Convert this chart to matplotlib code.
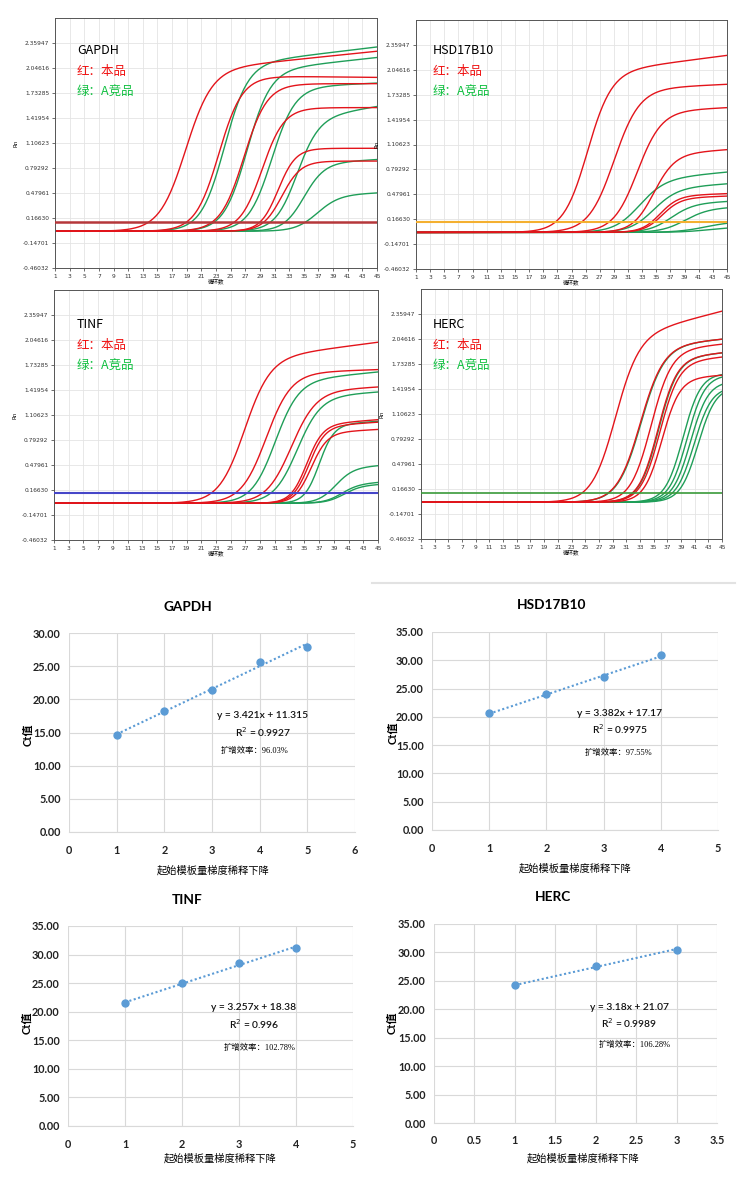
import numpy as np
import matplotlib
matplotlib.use('Agg')
import matplotlib.pyplot as plt
from matplotlib.lines import Line2D

plt.rcParams['font.family'] = ['Lato', 'Noto Sans CJK SC', 'DejaVu Sans']
plt.rcParams['axes.unicode_minus'] = False

W, H = 741, 1198

# ---------- amplification curves ----------
# each curve: midpoint cycle, plateau Rn, slope, drift per cycle after midpoint
cycles = np.linspace(1, 45, 221)
rn_ticks = [-0.46032, -0.14701, 0.16630, 0.47961, 0.79292, 1.10623,
            1.41954, 1.73285, 2.04616, 2.35947]
rn_labels = ['-0.46032', '-0.14701', '0.16630', '0.47961', '0.79292', '1.10623',
             '1.41954', '1.73285', '2.04616', '2.35947']
cycle_ticks = list(range(1, 46, 2))

gapdh_red_mid = [18.8, 23.4, 26.8, 29.3, 31.5, 32.0]
gapdh_red_plat = [2.01, 1.95, 1.85, 1.55, 1.04, 0.88]
gapdh_red_slope = [1.8, 1.6, 1.6, 1.5, 1.2, 1.3]
gapdh_red_drift = [0.0094, -0.001, 0.0, 0.0, 0.0, 0.0]
gapdh_green_mid = [24.1, 27.2, 30.6, 34.0, 35.0, 36.8]
gapdh_green_plat = [2.08, 2.0, 1.8, 1.4, 0.85, 0.45]
gapdh_green_slope = [1.6, 1.6, 1.6, 1.5, 1.4, 1.5]
gapdh_green_drift = [0.011, 0.01, 0.004, 0.015, 0.005, 0.004]
gapdh_threshold = 0.116

hsd_red_mid = [25.2, 29.0, 32.3, 34.6, 35.5, 35.8]
hsd_red_plat = [2.0, 1.8, 1.52, 0.98, 0.46, 0.43]
hsd_red_slope = [1.7, 1.8, 1.7, 1.5, 1.3, 1.3]
hsd_red_drift = [0.0115, 0.004, 0.004, 0.006, 0.003, 0.003]
hsd_green_mid = [32.5, 34.5, 37.0, 39.0, 42.0, 42.5]
hsd_green_plat = [0.66, 0.55, 0.36, 0.30, 0.14, 0.07]
hsd_green_slope = [1.8, 1.7, 1.6, 1.7, 2.0, 2.0]
hsd_green_drift = [0.008, 0.006, 0.004, 0.003, 0.0, 0.0]
hsd_threshold = 0.129

tinf_red_mid = [26.8, 29.8, 33.2, 35.3, 35.6, 35.9]
tinf_red_plat = [1.8, 1.63, 1.40, 0.98, 0.96, 0.88]
tinf_red_slope = [1.75, 1.7, 1.7, 1.1, 1.1, 1.1]
tinf_red_drift = [0.012, 0.003, 0.005, 0.007, 0.006, 0.005]
tinf_green_mid = [31.0, 34.0, 37.0, 39.2, 40.0, 40.3]
tinf_green_plat = [1.52, 1.33, 0.98, 0.44, 0.24, 0.22]
tinf_green_slope = [1.6, 1.6, 1.0, 1.2, 1.2, 1.2]
tinf_green_drift = [0.009, 0.006, 0.006, 0.006, 0.005, 0.004]
tinf_threshold = 0.124

herc_red_mid = [29.3, 33.0, 34.6, 35.6, 35.9, 36.2]
herc_red_plat = [2.05, 1.95, 1.9, 1.8, 1.75, 1.55]
herc_red_slope = [1.73, 1.7, 1.5, 1.4, 1.4, 1.3]
herc_red_drift = [0.022, 0.008, 0.008, 0.008, 0.008, 0.005]
herc_green_mid = [33.1, 35.7, 39.3, 39.9, 40.4, 40.9, 41.5]
herc_green_plat = [1.95, 1.8, 1.62, 1.6, 1.52, 1.45, 1.45]
herc_green_slope = [1.7, 1.4, 1.3, 1.3, 1.3, 1.3, 1.3]
herc_green_drift = [0.008, 0.008, 0.0, 0.0, 0.0, 0.0, 0.0]
herc_threshold = 0.12

# ---------- standard curves ----------
gapdh_dil = [1, 2, 3, 4, 5]
gapdh_ct = [14.6, 18.2, 21.4, 25.7, 27.9]
hsd_dil = [1, 2, 3, 4]
hsd_ct = [20.6, 24.1, 27.1, 30.9]
tinf_dil = [1, 2, 3, 4]
tinf_ct = [21.5, 25.0, 28.5, 31.2]
herc_dil = [1, 2, 3]
herc_ct = [24.2, 27.6, 30.5]

fits = {'GAPDH': (3.421, 11.315, '0.9927', '96.03%'),
        'HSD17B10': (3.382, 17.17, '0.9975', '97.55%'),
        'TINF': (3.257, 18.38, '0.996', '102.78%'),
        'HERC': (3.18, 21.07, '0.9989', '106.28%')}

RED = '#e3141b'
GREEN = '#1f9e58'
BLUE = '#5b9bd5'


def px_axes(fig, l, t, r, b):
    return fig.add_axes([l / W, 1 - b / H, (r - l) / W, (b - t) / H])


def curve(x, m, p, s, d):
    return (p + d * (x - m)) / (1 + np.exp(-(x - m) / s))


fig = plt.figure(figsize=(W / 100, H / 100), dpi=100)

amp_panels = [
    ('GAPDH', (55, 18, 377, 268), (77, 50), gapdh_red_mid, gapdh_red_plat, gapdh_red_slope, gapdh_red_drift,
     gapdh_green_mid, gapdh_green_plat, gapdh_green_slope, gapdh_green_drift, gapdh_threshold, '#b5373a', 1.8),
    ('HSD17B10', (416, 20, 727, 269), (433, 50), hsd_red_mid, hsd_red_plat, hsd_red_slope, hsd_red_drift,
     hsd_green_mid, hsd_green_plat, hsd_green_slope, hsd_green_drift, hsd_threshold, '#f4b030', 1.5),
    ('TINF', (54, 290, 378, 540), (77, 324), tinf_red_mid, tinf_red_plat, tinf_red_slope, tinf_red_drift,
     tinf_green_mid, tinf_green_plat, tinf_green_slope, tinf_green_drift, tinf_threshold, '#4646c8', 1.5),
    ('HERC', (421, 289, 722, 539), (433, 324), herc_red_mid, herc_red_plat, herc_red_slope, herc_red_drift,
     herc_green_mid, herc_green_plat, herc_green_slope, herc_green_drift, herc_threshold, '#3a9a3a', 1.2),
]

for (name, box, lab, rm, rp, rs, rd, gm, gp, gs, gd, thr, thr_col, thr_lw) in amp_panels:
    ax = px_axes(fig, *box)
    for m, p, s, d in zip(gm, gp, gs, gd):
        ax.plot(cycles, curve(cycles, m, p, s, d), color=GREEN, lw=1.0)
    for m, p, s, d in zip(rm, rp, rs, rd):
        ax.plot(cycles, curve(cycles, m, p, s, d), color=RED, lw=1.0)
    ax.axhline(thr, color=thr_col, lw=thr_lw, zorder=5)
    ax.set_xlim(1, 45)
    ax.set_ylim(-0.46032, 2.67278)
    ax.set_xticks(cycle_ticks)
    ax.set_xticklabels([str(c) for c in cycle_ticks], fontsize=4.2, family='DejaVu Sans')
    ax.set_yticks(rn_ticks)
    ax.set_yticklabels(rn_labels, fontsize=4.2, family='DejaVu Sans')
    ax.tick_params(length=2, width=0.5, pad=2, colors='#333333')
    ax.grid(True, color='#e4e4e4', lw=0.6)
    ax.set_axisbelow(True)
    for sp in ax.spines.values():
        sp.set_color('#555555')
        sp.set_linewidth(0.7)
    ax.set_xlabel('循环数', fontsize=4, labelpad=0, family=['Noto Sans CJK SC'])
    ax.set_ylabel('Rn', fontsize=4, labelpad=3, family='DejaVu Sans')
    lx, ly = lab
    fig.text(lx / W, 1 - ly / H, name, fontsize=9, color='black',
             family=['Noto Sans CJK SC'], va='center')
    fig.text(lx / W, 1 - (ly + 21) / H, '红：本品', fontsize=9, color='#f01010',
             family=['Noto Sans CJK SC'], va='center')
    fig.text(lx / W, 1 - (ly + 42) / H, '绿：A竞品', fontsize=9, color='#10c040',
             family=['Noto Sans CJK SC'], va='center')

# separator line above second standard curve
fig.add_artist(Line2D([372 / W, 735 / W], [1 - 583 / H, 1 - 583 / H], color='#e2e2e2', lw=1.5))

std_panels = [
    ('GAPDH', (69, 633, 355, 832), gapdh_dil, gapdh_ct, 6, 30, 1, (188, 607), (28, 735), (213, 870),
     (263, 716), (255, 751)),
    ('HSD17B10', (432, 632, 718, 830), hsd_dil, hsd_ct, 5, 35, 1, (552, 605), (393, 733), (575, 868),
     (620, 713), (618, 753)),
    ('TINF', (68, 926, 353, 1126), tinf_dil, tinf_ct, 5, 35, 1, (187, 900), (27, 1023), (220, 1158),
     (254, 1008), (260, 1048)),
    ('HERC', (434, 924, 717, 1123), herc_dil, herc_ct, 3.5, 35, 0.5, (553, 897), (392, 1023), (583, 1158),
     (629, 1007), (635, 1045)),
]

for (name, box, xs, ys, xmax, ymax, xstep, tpos, ylpos, xlpos, eqpos, effpos) in std_panels:
    ax = px_axes(fig, *box)
    k, b0, r2, eff = fits[name]
    xl = np.array([min(xs), max(xs)])
    ax.plot(xl, k * xl + b0, ls=(0, (1, 1.2)), color=BLUE, lw=1.5)
    ax.plot(xs, ys, 'o', color=BLUE, ms=5)
    ax.set_xlim(0, xmax)
    ax.set_ylim(0, ymax)
    xt = np.arange(0, xmax + 0.001, xstep)
    ax.set_xticks(xt)
    ax.set_xticklabels([('%g' % v) for v in xt], fontsize=7.8, weight='bold', color='#222222')
    yt = np.arange(0, ymax + 0.001, 5)
    ax.set_yticks(yt)
    ax.set_yticklabels(['%.2f' % v for v in yt], fontsize=7.8, weight='bold', color='#222222')
    ax.tick_params(length=0, pad=9)
    ax.tick_params(axis='y', pad=6)
    ax.grid(True, color='#d9d9d9', lw=0.8)
    ax.set_axisbelow(True)
    for sp in ['top', 'right', 'left']:
        ax.spines[sp].set_visible(False)
    ax.spines['bottom'].set_color('#d9d9d9')
    ax.spines['bottom'].set_linewidth(0.8)
    fig.text(tpos[0] / W, 1 - tpos[1] / H, name, fontsize=9.8, weight='bold', ha='center', va='center')
    fig.text(ylpos[0] / W, 1 - ylpos[1] / H, 'Ct值', fontsize=8, weight='bold', rotation=90,
             ha='center', va='center')
    fig.text(xlpos[0] / W, 1 - xlpos[1] / H, '起始模板量梯度稀释下降', fontsize=7.4,
             ha='center', va='center', family=['Noto Sans CJK SC'])
    fig.text(eqpos[0] / W, 1 - eqpos[1] / H, 'y = %sx + %s' % (k, b0), fontsize=7.4,
             ha='center', va='center', color='#111111', weight='semibold')
    fig.text(eqpos[0] / W, 1 - (eqpos[1] + 16) / H, 'R$^2$ = %s' % r2, fontsize=7.4,
             ha='center', va='center', color='#111111', weight='semibold')
    fig.text(effpos[0] / W, 1 - effpos[1] / H, '扩增效率：' + eff, fontsize=6,
             ha='center', va='center', family=['Liberation Serif', 'Noto Sans CJK SC'])

fig.savefig('out.png', dpi=100, facecolor='white')
